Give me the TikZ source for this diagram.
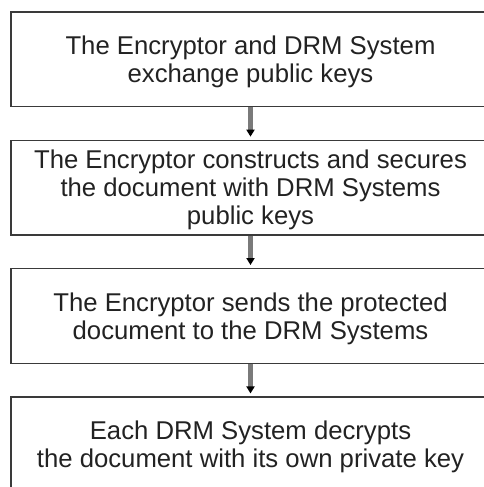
\documentclass[tikz,border=0pt]{standalone}
\usepackage{fontspec}
\setmainfont{Liberation Sans}
\usetikzlibrary{positioning,arrows.meta}

\definecolor{boxline}{HTML}{3A3A3A}
\definecolor{textgray}{HTML}{222222}
\definecolor{shaftgray}{HTML}{7A7A7A}

\begin{document}
\begin{tikzpicture}[x=1pt, y=1pt,
    stepbox/.style={draw=boxline, line width=1.4pt, minimum width=479pt, minimum height=94.5pt,
        inner sep=0pt, align=center, text=textgray, text depth=0pt,
        font=\fontsize{25.7pt}{28pt}\selectfont},
    flow/.style={draw=shaftgray, line width=4.5pt, shorten >=3pt,
        -{Triangle[length=7pt, width=8pt, black]}},
    node distance=32.5pt]

    % Picture frame (boxes run past the right and bottom edges)
    \useasboundingbox (0,0) rectangle (484,-487);

    % Define the steps
    \node[stepbox] (keys) at (250.5,-59.2) {The Encryptor and DRM System\\exchange public keys};
    \node[stepbox, below=of keys] (build) {The Encryptor constructs and secures\\the document with DRM Systems\\public keys};
    \node[stepbox, below=of build] (send) {The Encryptor sends the protected\\document to the DRM Systems};
    \node[stepbox, below=of send] (decrypt) {Each DRM System decrypts\\the document with its own private key};

    % Draw the arrows between the steps
    \foreach \a/\b in {keys/build, build/send, send/decrypt}
        \draw[flow] (\a.south) -- (\b.north);

\end{tikzpicture}
\end{document}
